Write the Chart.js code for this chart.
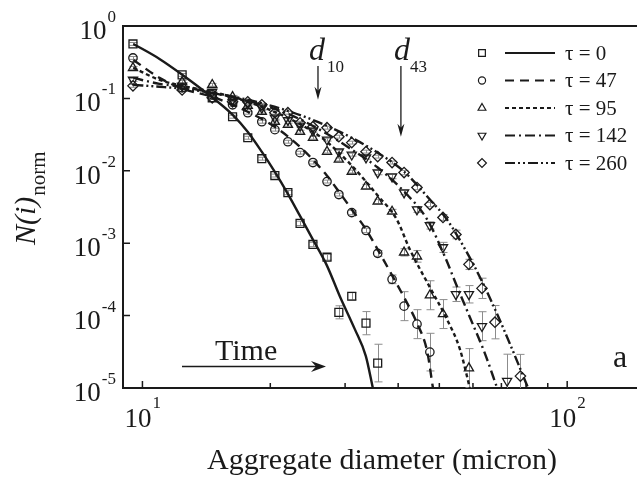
<!DOCTYPE html>
<html>
<head>
<meta charset="utf-8">
<script src="https://cdn.jsdelivr.net/npm/chart.js@4"></script>
<style>
  body { margin: 0; background: #fff; }
  #wrap { width: 637px; height: 477px; position: relative; }
</style>
</head>
<body>
<div id="wrap"><canvas id="dist"></canvas></div>
<script>
  // aggregate size distributions, N(i)norm vs diameter (micron)
  const diam = [9.5, 12.4, 14.6, 16.3, 17.7, 19.1, 20.5, 22.0, 23.5, 25.2, 27.2, 29.0, 31.1,
                33.6, 35.8, 38.7, 41.3, 44.3, 47.5, 51.0, 54.7, 58.7, 63.0, 67.6, 72.2, 77.6];
  const tau = [0, 47, 95, 142, 260];

  const n0   = [0.565, 0.211, 0.102, 0.0558, 0.0286, 0.0147, 0.0086, 0.0050, 0.00188, 0.00096,
                0.00064, 0.000111, 0.000185, 0.0000786, 0.0000221];
  const n47  = [0.362, 0.140, 0.112, 0.0816, 0.0634, 0.0476, 0.0370, 0.0252, 0.0178, 0.0130,
                0.0071, 0.0047, 0.00265, 0.00150, 0.000724, 0.000317, 0.000135, 0.0000762, 0.0000313];
  const n95  = [0.264, 0.169, 0.154, 0.105, 0.0791, 0.0654, 0.0476, 0.0433, 0.0347, 0.0286,
                0.0184, 0.0143, 0.00975, 0.00606, 0.00377, 0.00274, 0.000747, 0.000658, 0.000191,
                0.000105, null, 0.0000188];
  const n142 = [0.180, 0.149, 0.123, 0.0957, 0.0843, 0.0742, 0.0540, 0.0500, 0.0419, 0.0358,
                0.0269, 0.0184, 0.0167, 0.0152, 0.00945, 0.00832, 0.00501, 0.00292, 0.00176,
                0.000875, 0.000197, 0.000197, 0.0000714, null, 0.0000125];
  const n260 = [0.149, 0.131, 0.102, 0.0898, 0.0898, 0.0816, 0.0634, 0.0634, 0.0461, 0.0406,
                0.0394, 0.0296, 0.0245, 0.0184, 0.0157, 0.0130, 0.00945, 0.00587, 0.00342,
                0.00227, 0.00132, 0.00051, 0.000238, 0.0000811, null, 0.0000146];

  // error bar half length, in decades
  const err0   = [0.02, 0.02, 0.02, 0.02, 0.02, 0.02, 0.02, 0.03, 0.03, 0.03, 0.04, 0.09, 0.05, 0.16, 0.26];
  const err47  = [0.02, 0.02, 0.02, 0.02, 0.02, 0.02, 0.02, 0.02, 0.02, 0.02, 0.02, 0.02, 0.03, 0.03,
                  0.04, 0.06, 0.20, 0.20, 0.26];
  const err95  = [0.02, 0.02, 0.02, 0.02, 0.02, 0.02, 0.02, 0.02, 0.02, 0.02, 0.02, 0.02, 0.02, 0.03,
                  0.03, 0.03, 0.05, 0.08, 0.20, 0.20, null, 0.27];
  const err142 = [0.02, 0.02, 0.02, 0.02, 0.02, 0.02, 0.02, 0.02, 0.02, 0.02, 0.02, 0.02, 0.02, 0.02,
                  0.03, 0.03, 0.03, 0.04, 0.05, 0.07, 0.10, 0.12, 0.20, null, 0.37];
  const err260 = [0.02, 0.02, 0.02, 0.02, 0.02, 0.02, 0.02, 0.02, 0.02, 0.02, 0.02, 0.02, 0.02, 0.02,
                  0.02, 0.02, 0.03, 0.03, 0.03, 0.04, 0.06, 0.07, 0.14, 0.23, null, 0.30];

  // fitted curves
  const fit0x = [9.52, 10.97, 12.43, 14.23, 16.31, 17.69, 19.09, 20.48, 21.98, 23.46, 25.18, 27.17,
                 29.15, 31.62, 33.57, 34.87];
  const fit0y = [0.565, 0.351, 0.211, 0.116, 0.0594, 0.0347, 0.0184, 0.00975, 0.00485, 0.00242,
                 0.00113, 0.000494, 0.000185, 0.000065, 0.0000276, 0.00001];
  const fit47x = [9.52, 10.97, 12.43, 14.62, 17.69, 20.48, 23.46, 25.18, 27.17, 29.0, 31.1, 33.6,
                  36.0, 38.7, 41.3, 44.3, 46.8, 48.3];
  const fit47y = [0.340, 0.192, 0.136, 0.105, 0.0654, 0.0406, 0.0216, 0.0143, 0.0086, 0.00517,
                  0.00292, 0.00155, 0.000771, 0.00036, 0.000179, 0.0000786, 0.0000323, 0.00001];
  const fit95x = [9.52, 10.97, 12.43, 14.62, 17.69, 21.98, 25.18, 27.17, 31.1, 35.8, 39.7, 42.6,
                  47.5, 52.1, 55.9, 59.0];
  const fit95y = [0.264, 0.180, 0.149, 0.123, 0.0898, 0.054, 0.0347, 0.0252, 0.0118, 0.00455,
                  0.00213, 0.000822, 0.000246, 0.0000892, 0.0000344, 0.00001];
  const fit142x = [9.52, 10.97, 12.43, 14.62, 17.69, 21.98, 27.17, 31.1, 35.8, 41.3, 46.8, 51.6,
                   55.0, 59.0, 64.1, 68.4];
  const fit142y = [0.192, 0.159, 0.145, 0.119, 0.0927, 0.0614, 0.0325, 0.0196, 0.0111, 0.00517,
                   0.00213, 0.00064, 0.000254, 0.0000951, 0.0000294, 0.00001];
  const fit260x = [9.52, 10.97, 12.43, 14.62, 17.69, 21.98, 27.17, 31.1, 35.8, 41.3, 47.5, 52.1,
                   58.4, 63.0, 68.4, 74.2, 80.9];
  const fit260y = [0.154, 0.145, 0.136, 0.119, 0.0957, 0.0675, 0.0419, 0.0286, 0.0178, 0.00975,
                   0.00401, 0.00213, 0.000701, 0.000298, 0.000105, 0.0000344, 0.00001];

  // axis ticks
  const xMajor = [10, 100];
  const xMinor = [20, 30, 40, 50, 60, 70, 80, 90];
  const yMajor = [1, 0.1, 0.01, 0.001, 0.0001, 0.00001];
  const d10 = 25.9, d43 = 40.6;

  const nSeries = [n0, n47, n95, n142, n260];
  const errSeries = [err0, err47, err95, err142, err260];
  const fitX = [fit0x, fit47x, fit95x, fit142x, fit260x];
  const fitY = [fit0y, fit47y, fit95y, fit142y, fit260y];

  const ink = '#1a1a1a';
  const serif = '"Liberation Serif", "Times New Roman", serif';
  const shapes = ['rect', 'circle', 'triangle', 'triangle', 'rectRot'];
  const shapeRot = [0, 0, 0, 180, 0];
  const shapeRad = [5.6, 4.2, 5.3, 5.3, 5.2];
  const dashes = [[], [9, 6], [4, 3], [10, 4, 2, 4], [10, 3, 2, 3, 2, 3]];

  const markerSets = nSeries.map((vals, k) => ({
    label: 'τ = ' + tau[k],
    data: vals.map((v, i) => ({ x: diam[i], y: v })),
    showLine: false,
    pointStyle: shapes[k],
    rotation: shapeRot[k],
    pointRadius: shapeRad[k],
    borderColor: ink,
    backgroundColor: 'rgba(255,255,255,0)',
    borderWidth: 1.3
  }));

  const fitSets = fitX.map((xs, k) => ({
    label: 'fit ' + tau[k],
    data: xs.map((x, i) => ({ x: x, y: fitY[k][i] })),
    showLine: true,
    pointRadius: 0,
    borderColor: ink,
    borderWidth: 2.4,
    borderDash: dashes[k],
    cubicInterpolationMode: 'monotone'
  }));

  function drawPow(ctx, exp, x, y, big, small, lift) {
    // "10" with a raised exponent, starting at x, baseline y
    ctx.font = big + 'px ' + serif;
    ctx.textAlign = 'left';
    ctx.textBaseline = 'alphabetic';
    ctx.fillText('10', x, y);
    const w = ctx.measureText('10').width;
    ctx.font = small + 'px ' + serif;
    ctx.fillText(exp, x + w + 1, y - lift);
    return w + 1 + ctx.measureText(exp).width;
  }

  function powWidth(ctx, exp, big, small) {
    ctx.font = big + 'px ' + serif;
    const w = ctx.measureText('10').width;
    ctx.font = small + 'px ' + serif;
    return w + 1 + ctx.measureText(exp).width;
  }

  function arrowDown(ctx, x, y0, y1) {
    ctx.beginPath();
    ctx.moveTo(x, y0);
    ctx.lineTo(x, y1 - 8);
    ctx.stroke();
    ctx.beginPath();
    ctx.moveTo(x - 3.5, y1 - 13);
    ctx.lineTo(x, y1);
    ctx.lineTo(x + 3.5, y1 - 13);
    ctx.lineTo(x, y1 - 9);
    ctx.closePath();
    ctx.fill();
  }

  const decor = {
    id: 'decor',
    beforeDatasetsDraw(chart) {
      const ctx = chart.ctx, a = chart.chartArea;
      const xs = chart.scales.x, ys = chart.scales.y;
      ctx.save();
      ctx.beginPath();
      ctx.rect(a.left, a.top, a.right - a.left, a.bottom - a.top);
      ctx.clip();
      ctx.strokeStyle = '#8c8c8c';
      ctx.lineWidth = 1;
      nSeries.forEach((vals, k) => {
        vals.forEach((v, i) => {
          const e = errSeries[k][i];
          if (v === null || e === null) return;
          const px = Math.round(xs.getPixelForValue(diam[i])) + 0.5;
          const top = ys.getPixelForValue(v * Math.pow(10, e));
          const bot = ys.getPixelForValue(v / Math.pow(10, e));
          ctx.beginPath();
          ctx.moveTo(px, top); ctx.lineTo(px, bot);
          ctx.moveTo(px - 4, top); ctx.lineTo(px + 4, top);
          ctx.moveTo(px - 4, bot); ctx.lineTo(px + 4, bot);
          ctx.stroke();
        });
      });
      ctx.restore();
    },
    afterDraw(chart) {
      const ctx = chart.ctx, a = chart.chartArea;
      const xs = chart.scales.x, ys = chart.scales.y;
      ctx.save();
      ctx.fillStyle = ink;
      ctx.strokeStyle = ink;

      // frame top edge
      ctx.lineWidth = 2;
      ctx.beginPath();
      ctx.moveTo(a.left, a.top); ctx.lineTo(a.right, a.top);
      ctx.stroke();

      // inward ticks
      ctx.lineWidth = 1.5;
      ctx.beginPath();
      xMajor.forEach(v => {
        const p = xs.getPixelForValue(v);
        ctx.moveTo(p, a.bottom); ctx.lineTo(p, a.bottom - 7);
      });
      xMinor.forEach(v => {
        const p = xs.getPixelForValue(v);
        ctx.moveTo(p, a.bottom); ctx.lineTo(p, a.bottom - 5);
      });
      yMajor.forEach(v => {
        const p = ys.getPixelForValue(v);
        ctx.moveTo(a.left, p); ctx.lineTo(a.left + 7, p);
      });
      ctx.stroke();

      // tick labels
      xMajor.forEach(v => {
        const p = xs.getPixelForValue(v);
        const e = String(Math.round(Math.log10(v)));
        drawPow(ctx, e, p - 18, a.bottom + 39, 27, 17, 19);
      });
      yMajor.forEach(v => {
        const p = ys.getPixelForValue(v);
        const e = String(Math.round(Math.log10(v)));
        const w = powWidth(ctx, e, 27, 17);
        drawPow(ctx, e, a.left - 7 - w, p + 13, 27, 17, 17);
      });

      // axis titles
      ctx.font = '30px ' + serif;
      ctx.textAlign = 'center';
      ctx.fillText('Aggregate diameter (micron)', 382, 469);

      ctx.save();
      ctx.translate(35, 245);
      ctx.rotate(-Math.PI / 2);
      ctx.textAlign = 'left';
      ctx.font = 'italic 30px ' + serif;
      ctx.fillText('N(i)', 0, 0);
      const nw = ctx.measureText('N(i)').width;
      ctx.font = '21px ' + serif;
      ctx.fillText('norm', nw + 1, 10);
      ctx.restore();

      // d10 / d43 markers
      ctx.lineWidth = 1.3;
      const top0 = ys.getPixelForValue(0.28);
      const p10 = xs.getPixelForValue(d10);
      const p43 = xs.getPixelForValue(d43);
      arrowDown(ctx, p10, top0, ys.getPixelForValue(0.0957));
      arrowDown(ctx, p43, top0, ys.getPixelForValue(0.0296));
      ctx.textAlign = 'left';
      ctx.font = 'italic 32px ' + serif;
      ctx.fillText('d', p10 - 9, 60);
      ctx.fillText('d', p43 - 7, 60);
      ctx.font = '17px ' + serif;
      ctx.fillText('10', p10 + 9, 72);
      ctx.fillText('43', p43 + 9, 72);

      // Time arrow
      ctx.font = '30px ' + serif;
      ctx.fillText('Time', 215, 360);
      ctx.lineWidth = 1.3;
      ctx.beginPath();
      ctx.moveTo(182, 366.5); ctx.lineTo(318, 366.5);
      ctx.stroke();
      ctx.beginPath();
      ctx.moveTo(326, 366.5);
      ctx.lineTo(311, 361);
      ctx.lineTo(316, 366.5);
      ctx.lineTo(311, 372);
      ctx.closePath();
      ctx.fill();

      ctx.font = '32px ' + serif;
      ctx.fillText('a', 613, 367);

      // legend
      markerSets.forEach((ds, k) => {
        const y = 53 + k * 27.5;
        ctx.save();
        ctx.lineWidth = 1.2;
        ctx.fillStyle = 'rgba(255,255,255,0)';
        Chart.helpers.drawPoint(ctx, {
          pointStyle: ds.pointStyle, rotation: ds.rotation,
          radius: ds.pointRadius * 0.85, borderWidth: 1.2
        }, 482, y);
        ctx.restore();
        ctx.save();
        ctx.lineWidth = 2;
        ctx.setLineDash(dashes[k]);
        ctx.beginPath();
        ctx.moveTo(505, y); ctx.lineTo(555, y);
        ctx.stroke();
        ctx.restore();
        ctx.font = '21px ' + serif;
        ctx.textBaseline = 'middle';
        ctx.fillText(ds.label, 565, y + 1);
        ctx.textBaseline = 'alphabetic';
      });
      ctx.restore();
    }
  };

  new Chart(document.getElementById('dist'), {
    type: 'scatter',
    data: { datasets: markerSets.concat(fitSets) },
    options: {
      responsive: true,
      maintainAspectRatio: false,
      animation: false,
      events: [],
      layout: { autoPadding: false, padding: { left: 123, top: 26, right: 0, bottom: 89 } },
      plugins: { legend: { display: false }, tooltip: { enabled: false } },
      scales: {
        x: {
          type: 'logarithmic', min: 9, max: 146,
          grid: { display: false, drawTicks: false },
          border: { display: true, color: ink, width: 2 },
          ticks: { display: false }
        },
        y: {
          type: 'logarithmic', min: 0.00001, max: 1,
          grid: { display: false, drawTicks: false },
          border: { display: true, color: ink, width: 2 },
          ticks: { display: false }
        }
      }
    },
    plugins: [decor]
  });
</script>
</body>
</html>
